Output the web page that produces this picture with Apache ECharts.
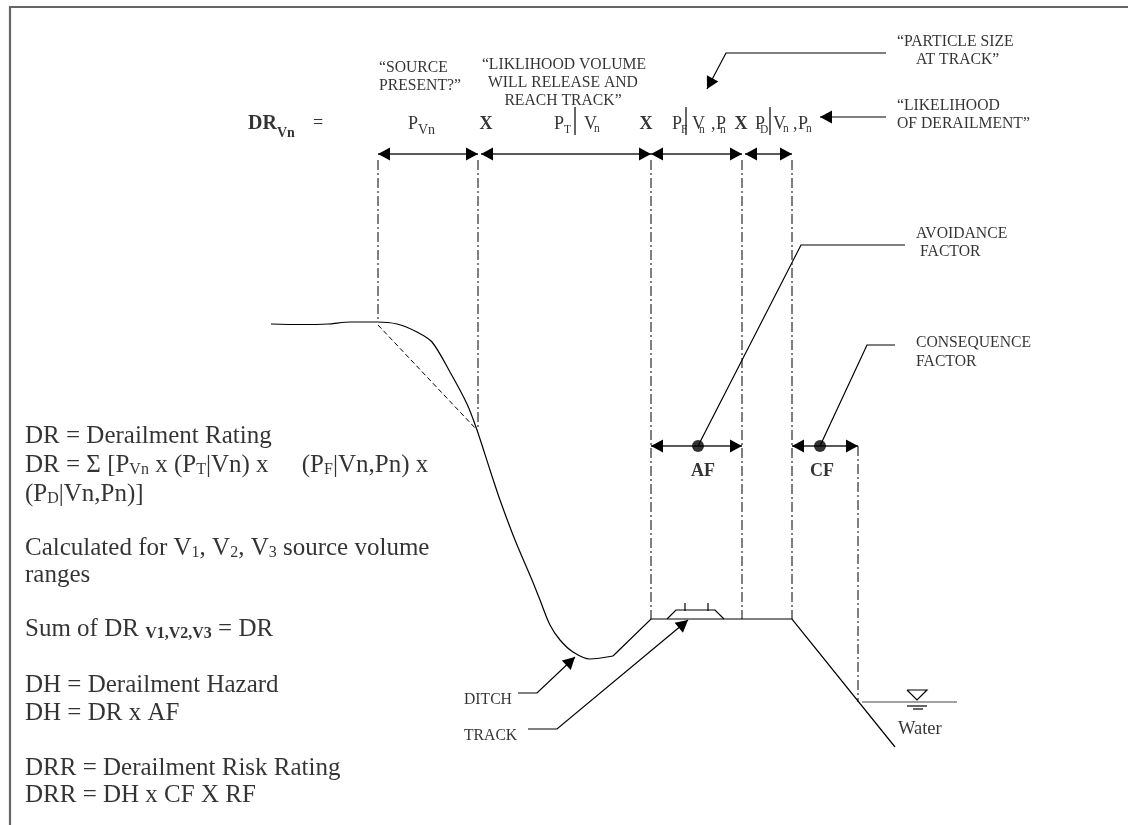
<!DOCTYPE html>
<html><head><meta charset="utf-8">
<style>html,body{margin:0;padding:0;background:#fff}#c{width:1128px;height:825px}</style>
<script src="https://cdn.jsdelivr.net/npm/echarts@6/dist/echarts.min.js"></script>
</head><body><div id="c"></div>
<script>
// --- diagram geometry (page units) ---
const framePath = [[10,825],[10,7],[1128,7]];
const slopeCurve = [[271,324],[300,324.5],[328,324],[350,322],[377,322],[397,324],[417,332],[432,342],[450,372],[467,404],[477,430],[490,470],[500,500],[515,540],[532,580],[540,600],[550,625],[560,640],[573,652],[590,659],[613,656]];
const groundPath = [[613,656],[651,619],[792,619],[895,747]];
const ballastPath = [[667,619],[676,610],[715,610],[724,619]];
const tie1 = [[685,603],[685,611]];
const tie2 = [[708,603],[708,611]];
const dashedChord = [[378,325],[477,430]];
const waterLine = [[862,702],[957,702]];
const waterTri = [[907,690],[927,690],[917,700],[907,690]];
const waterMark1 = [[907,706],[927,706]];
const waterMark2 = [[913,709],[923,709]];
const guides = [
  [[378,160],[378,322]], [[478,160],[478,430]], [[651,160],[651,619]],
  [[742,160],[742,619]], [[792,160],[792,619]], [[858,446],[858,702]]
];
const dimensions = [
  [[378,154],[478,154]], [[481,154],[651,154]], [[651,154],[742,154]], [[745,154],[792,154]],
  [[651,446],[742,446]], [[792,446],[858,446]]
];
const leaders = [
  [[698,446],[801,245],[905,245]],
  [[820,446],[867,345],[895,345]],
  [[886,53],[726,53],[707,89]],
  [[886,117],[820,117]],
  [[518,693],[537,693],[575,657]],
  [[528,729],[557,729],[688,620]]
];
const bars = [[[575,107],[575,135]],[[686,107],[686,135]],[[770,107],[770,135]]];
const dots = [[698,446],[820,446]];
// --- text ---
const smallLeft = [
  ['“SOURCE',379,68],['PRESENT?”',379,86],
  ['“PARTICLE SIZE',897,42],['AT TRACK”',916,60],
  ['“LIKELIHOOD',897,106],['OF DERAILMENT”',897,124],
  ['AVOIDANCE',916,234],['FACTOR',920,252],
  ['CONSEQUENCE',916,343],['FACTOR',916,362],
  ['DITCH',464,700],['TRACK',464,736]
];
const waterText = [['Water',898,729]];
const smallCentre = [['“LIKLIHOOD VOLUME',564,65],['WILL RELEASE AND',563,83],['REACH TRACK”',563,101]];
const boldCentre = [['AF',703,471],['CF',822,471],['X',486,124],['X',646,124],['X',741,124]];
const formula = [
  ['{db|DR}',248,124],['{dbs|Vn}',277,133],['{f|=}',313,123],
  ['{f|P}',408,124],['{fs|Vn}',418,130],
  ['{f|P}',554,124],['{ft|T}',564,130],['{f|V}',584,124],['{ft|n}',594,129],
  ['{f|P}',672,124],['{ft|F}',681,130],['{f|V}',692,124],['{ft|n}',699,130],['{f|,}',711,124],['{f|P}',716,124],['{ft|n}',720,130],
  ['{f|P}',755,124],['{ft|D}',760,130],['{f|V}',773,124],['{ft|n}',783,129],['{f|,}',793,124],['{f|P}',798,124],['{ft|n}',806,129]
];
const notes = [
  ['{n|DR = Derailment Rating}',25,435],
  ['{n|DR = Σ [P}{s|Vn}{n| x (P}{s|T}{n||Vn) x\u00a0\u00a0\u00a0\u00a0}{gap|\u00a0}{n| (P}{s|F}{n||Vn,Pn) x}',25,464],
  ['{n|(P}{s|D}{n||Vn,Pn)]}',25,493],
  ['{n|Calculated for V}{s|1}{n|, V}{s|2}{n|, V}{s|3}{n| source volume}',25,547],
  ['{n|ranges}',25,574],
  ['{n|Sum of DR }{sb|V1,V2,V3}{n| = DR}',25,628],
  ['{n|DH = Derailment Hazard}',25,684],
  ['{n|DH = DR x AF}',25,712],
  ['{n|DRR = Derailment Risk Rating}',25,767],
  ['{n|DRR = DH x CF X RF}',25,794]
];

const SERIF = '"Liberation Serif"';
const INK = '#000';
const rich = {
  n:{fontFamily:SERIF,fontSize:25,color:INK,lineHeight:28,verticalAlign:'bottom'},
  gap:{fontFamily:SERIF,fontSize:8,color:INK,lineHeight:10,verticalAlign:'bottom'},
  s:{fontFamily:SERIF,fontSize:16,color:INK,lineHeight:16,verticalAlign:'bottom'},
  sb:{fontFamily:SERIF,fontSize:16,fontWeight:'bold',color:INK,lineHeight:16,verticalAlign:'bottom'},
  db:{fontFamily:SERIF,fontSize:20,fontWeight:'bold',color:INK},
  dbs:{fontFamily:SERIF,fontSize:14,fontWeight:'bold',color:INK},
  f:{fontFamily:SERIF,fontSize:18,color:INK},
  fs:{fontFamily:SERIF,fontSize:14,color:INK},
  ft:{fontFamily:SERIF,fontSize:11.5,color:INK}
};
function path(d,w,type,color,smooth){
  return {type:'line',data:d,symbol:'none',silent:true,animation:false,smooth:smooth||false,
    lineStyle:{width:w,type:type||'solid',color:color||INK,cap:'butt',join:'miter'},z:2};
}
function labels(list,opt){
  return {type:'scatter',symbolSize:0,silent:true,animation:false,z:5,
    data:list.map(t=>({value:[t[1],t[2]],label:Object.assign({show:true,formatter:t[0],rich:rich,color:INK,fontFamily:SERIF,distance:0},opt)}))};
}
// arrow heads: a tip and the point the shaft comes from, placed through the axes
function heads(list,len,half){
  return {type:'custom',silent:true,animation:false,z:4,
    data:list.map(p=>[p[0],p[1],p[2],p[3]]),
    renderItem:function(params,api){
      const tip=api.coord([api.value(0),api.value(1)]);
      const from=api.coord([api.value(2),api.value(3)]);
      const dx=from[0]-tip[0],dy=from[1]-tip[1],l=Math.hypot(dx,dy);
      const ux=dx/l,uy=dy/l;
      return {type:'polygon',shape:{points:[tip,
        [tip[0]+ux*len-uy*half,tip[1]+uy*len+ux*half],
        [tip[0]+ux*len+uy*half,tip[1]+uy*len-ux*half]]},style:{fill:'#000'}};
    }};
}
const headList=[];
dimensions.forEach(d=>{headList.push([d[0][0],d[0][1],d[1][0],d[1][1]]);headList.push([d[1][0],d[1][1],d[0][0],d[0][1]]);});
[2,3,4,5].forEach(i=>{const l=leaders[i],n=l.length;headList.push([l[n-1][0],l[n-1][1],l[n-2][0],l[n-2][1]]);});

const series=[
  path(framePath,2.2,'solid','#666'),
  path(slopeCurve,1.2,'solid',INK,0.3),path(groundPath,1.2),path(ballastPath,1.2),path(tie1,1.2),path(tie2,1.2),
  path(dashedChord,1,[5,3]),
  path(waterLine,1.2,'solid','#444'),path(waterTri,1.2),path(waterMark1,1.2),path(waterMark2,1.2)
];
guides.forEach(g=>series.push(path(g,1,[10,3,2,3])));
dimensions.forEach(g=>series.push(path(g,1.5,'solid','#222')));
leaders.forEach(g=>series.push(path(g,1.2)));
bars.forEach(g=>series.push(path(g,1.2)));
series.push(heads(headList,12,6.5));
series.push({type:'scatter',data:dots,symbolSize:12,silent:true,animation:false,z:6,itemStyle:{color:'#000'}});
series.push(labels(smallLeft,{position:'right',fontSize:15.7}));
series.push(labels(waterText,{position:'right',fontSize:18.5}));
series.push(labels(smallCentre,{position:'inside',fontSize:15.7}));
series.push(labels(boldCentre,{position:'inside',fontSize:18,fontWeight:'bold'}));
series.push(labels(formula,{position:'right'}));
series.push(labels(notes,{position:'right'}));

const chart=echarts.init(document.getElementById('c'),null,{renderer:'canvas'});
chart.setOption({
  animation:false,backgroundColor:'#fff',
  grid:{left:0,right:0,top:0,bottom:0},
  xAxis:{type:'value',min:0,max:1128,show:false},
  yAxis:{type:'value',min:0,max:825,inverse:true,show:false},
  tooltip:{show:false},
  series:series
});
</script></body></html>
